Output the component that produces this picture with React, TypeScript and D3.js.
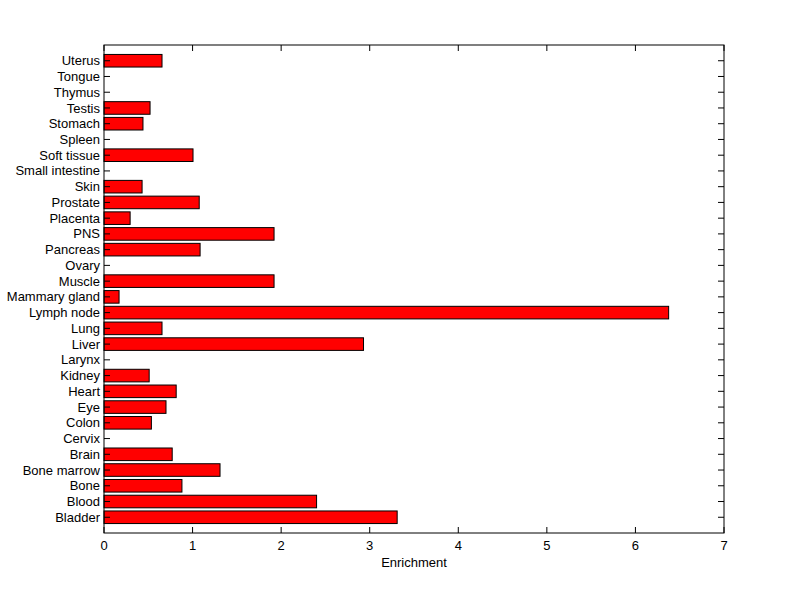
import React from "react";
import * as d3 from "d3";

const categories = [
  "Bladder", "Blood", "Bone", "Bone marrow", "Brain", "Cervix", "Colon", "Eye", "Heart", "Kidney",
  "Larynx", "Liver", "Lung", "Lymph node", "Mammary gland", "Muscle", "Ovary", "Pancreas", "PNS",
  "Placenta", "Prostate", "Skin", "Small intestine", "Soft tissue", "Spleen", "Stomach", "Testis",
  "Thymus", "Tongue", "Uterus",
];
const values = [
  3.31, 2.40, 0.88, 1.31, 0.77, 0, 0.535, 0.70, 0.815, 0.51,
  0, 2.93, 0.655, 6.375, 0.17, 1.92, 0, 1.085, 1.92,
  0.295, 1.075, 0.43, 0, 1.005, 0, 0.44, 0.52,
  0, 0, 0.655,
];
const xTicks = [0, 1, 2, 3, 4, 5, 6, 7];
const xLabel = "Enrichment";

export default function App() {
  const W = 800, H = 599;
  const left = 104, right = 724, top = 45, bottom = 533;
  const x = d3.scaleLinear().domain([0, 7]).range([left, right]);
  const y = d3.scaleLinear().domain([0, categories.length + 1]).range([bottom, top]);
  const bw = 0.8;
  const tl = 6;
  const font = "'Liberation Sans', Arial, sans-serif";
  const fs = 13;
  return (
    <svg width={W} height={H} style={{ position: "absolute", left: 0, top: 0, background: "#fff" }}>
      <rect x={0} y={0} width={W} height={H} fill="#fff" />
      {values.map((v, i) =>
        v > 0 ? (
          <rect
            key={i}
            x={x(0)}
            y={y(i + 1 + bw / 2)}
            width={x(v) - x(0)}
            height={y(i + 1 - bw / 2) - y(i + 1 + bw / 2)}
            fill="#ff0000"
            stroke="#000"
            strokeWidth={1}
          />
        ) : null
      )}
      <rect x={left} y={top} width={right - left} height={bottom - top} fill="none" stroke="#000" strokeWidth={1} />
      {categories.map((c, i) => (
        <g key={c}>
          <line x1={left} x2={left + tl} y1={y(i + 1)} y2={y(i + 1)} stroke="#000" />
          <line x1={right - tl} x2={right} y1={y(i + 1)} y2={y(i + 1)} stroke="#000" />
          <text x={left - 4} y={y(i + 1)} dy="0.35em" textAnchor="end" fontFamily={font} fontSize={fs} fill="#000">
            {c}
          </text>
        </g>
      ))}
      {xTicks.map((t) => (
        <g key={t}>
          <line x1={x(t)} x2={x(t)} y1={bottom} y2={bottom - tl} stroke="#000" />
          <line x1={x(t)} x2={x(t)} y1={top} y2={top + tl} stroke="#000" />
          <text x={x(t)} y={bottom + 17} textAnchor="middle" fontFamily={font} fontSize={fs} fill="#000">
            {t}
          </text>
        </g>
      ))}
      <text x={(left + right) / 2} y={bottom + 34} textAnchor="middle" fontFamily={font} fontSize={fs} fill="#000">
        {xLabel}
      </text>
    </svg>
  );
}
